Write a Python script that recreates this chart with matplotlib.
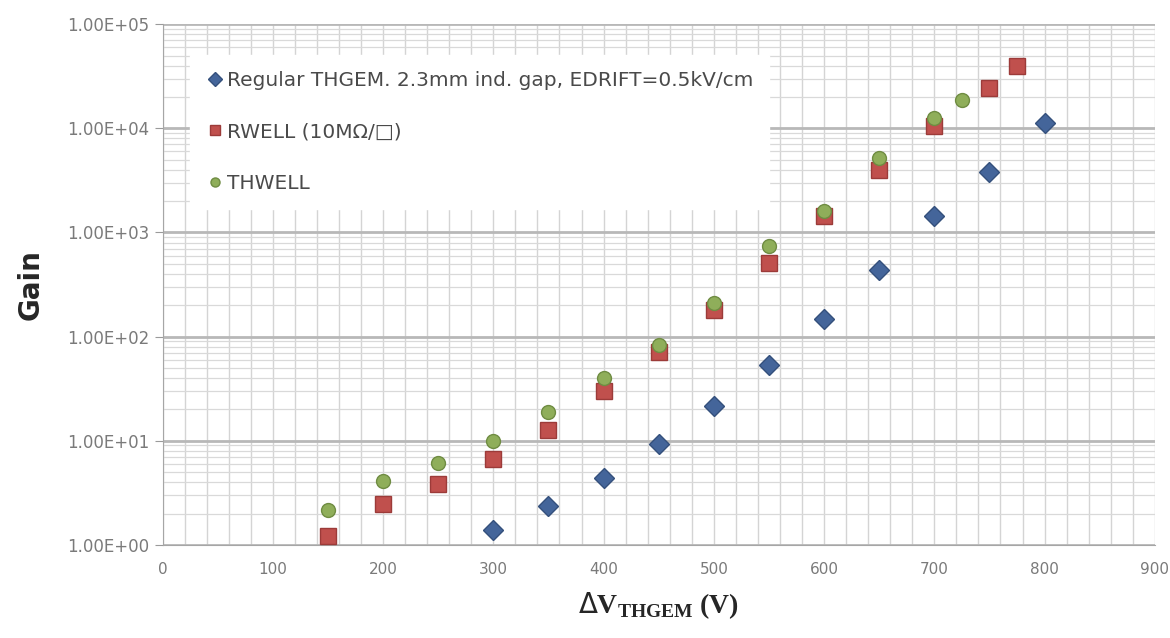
"""
Gain vs THGEM voltage for three detector configurations (log scale).
"""
import matplotlib.pyplot as plt
from matplotlib.ticker import MultipleLocator, LogLocator, FixedLocator

# Regular THGEM, 2.3mm induction gap
v_thgem = [300, 350, 400, 450, 500, 550, 600, 650, 700, 750, 800]
gain_thgem = [1.39, 2.37, 4.4, 9.3, 21.6, 53, 147, 437, 1436, 3800, 11200]

# RWELL (10 MOhm/sq)
v_rwell = [150, 200, 250, 300, 350, 400, 450, 500, 550, 600, 650, 700, 750, 775]
gain_rwell = [1.22, 2.47, 3.85, 6.7, 12.7, 30, 71, 180, 508, 1436, 3970,
              10500, 24300, 39500]

# THWELL
v_thwell = [150, 200, 250, 300, 350, 400, 450, 500, 550, 600, 650, 700, 725]
gain_thwell = [2.17, 4.1, 6.1, 9.96, 18.9, 40, 83, 210, 740, 1600, 5200,
               12600, 18700]

labels = ["Regular THGEM. 2.3mm ind. gap, EDRIFT=0.5kV/cm",
          "RWELL (10M\u03a9/\u25a1)",
          "THWELL"]
y_ticks = [1, 10, 100, 1000, 10000, 100000]
y_tick_labels = ["1.00E+00", "1.00E+01", "1.00E+02",
                 "1.00E+03", "1.00E+04", "1.00E+05"]

fig = plt.figure(figsize=(11.7, 6.38), dpi=100)
ax = fig.add_axes([0.139, 0.146, 0.848, 0.816])

ax.plot(v_thgem, gain_thgem, "D", color="#44659a", markeredgecolor="#34507c",
        markersize=10.5, label=labels[0], zorder=3)
ax.plot(v_rwell, gain_rwell, "s", color="#c0504d", markeredgecolor="#9c3b39",
        markersize=11, label=labels[1], zorder=4)
ax.plot(v_thwell, gain_thwell, "o", color="#8fae5a", markeredgecolor="#6f8c42",
        markersize=10, label=labels[2], zorder=5)

ax.set_yscale("log")
ax.set_xlim(0, 900)
ax.set_ylim(1, 1e5)
ax.xaxis.set_major_locator(MultipleLocator(100))
ax.xaxis.set_minor_locator(MultipleLocator(20))
ax.yaxis.set_major_locator(FixedLocator(y_ticks))
ax.set_yticklabels(y_tick_labels)
ax.yaxis.set_minor_locator(LogLocator(base=10, subs=range(2, 10)))

# vertical grid is uniform, horizontal decades are heavier
ax.grid(axis="x", which="both", color="#d4d4d4", linewidth=1.0)
ax.grid(axis="y", which="minor", color="#d9d9d9", linewidth=0.9)
ax.grid(axis="y", which="major", color="#b8b8b8", linewidth=2.0)
ax.set_axisbelow(True)

for side in ["top", "right"]:
    ax.spines[side].set_visible(False)
for side in ["left", "bottom"]:
    ax.spines[side].set_color("#a6a6a6")
ax.tick_params(which="major", colors="#9a9a9a", labelcolor="#7a7a7a",
               labelsize=12, length=6)
ax.tick_params(axis="x", which="major", length=0, pad=12, labelsize=11)
ax.tick_params(which="minor", length=0)

ax.set_ylabel("Gain", fontsize=20, fontweight="bold", labelpad=16,
              color="#262626")
ax.set_xlabel(r"$\Delta$V$_{\mathregular{THGEM}}$ (V)", fontsize=20,
              fontweight="bold", family="Liberation Serif", labelpad=10,
              color="#262626")

leg = ax.legend(loc="upper left", bbox_to_anchor=(0.017, 0.96), fontsize=14.5,
                labelspacing=1.6, handletextpad=0.15, handlelength=0.9,
                borderpad=0.8, frameon=True, fancybox=False, framealpha=1,
                markerscale=0.65)
leg.get_frame().set_edgecolor("white")
for t in leg.get_texts():
    t.set_color("#4a4a4a")

fig.savefig("out.png", dpi=100)
